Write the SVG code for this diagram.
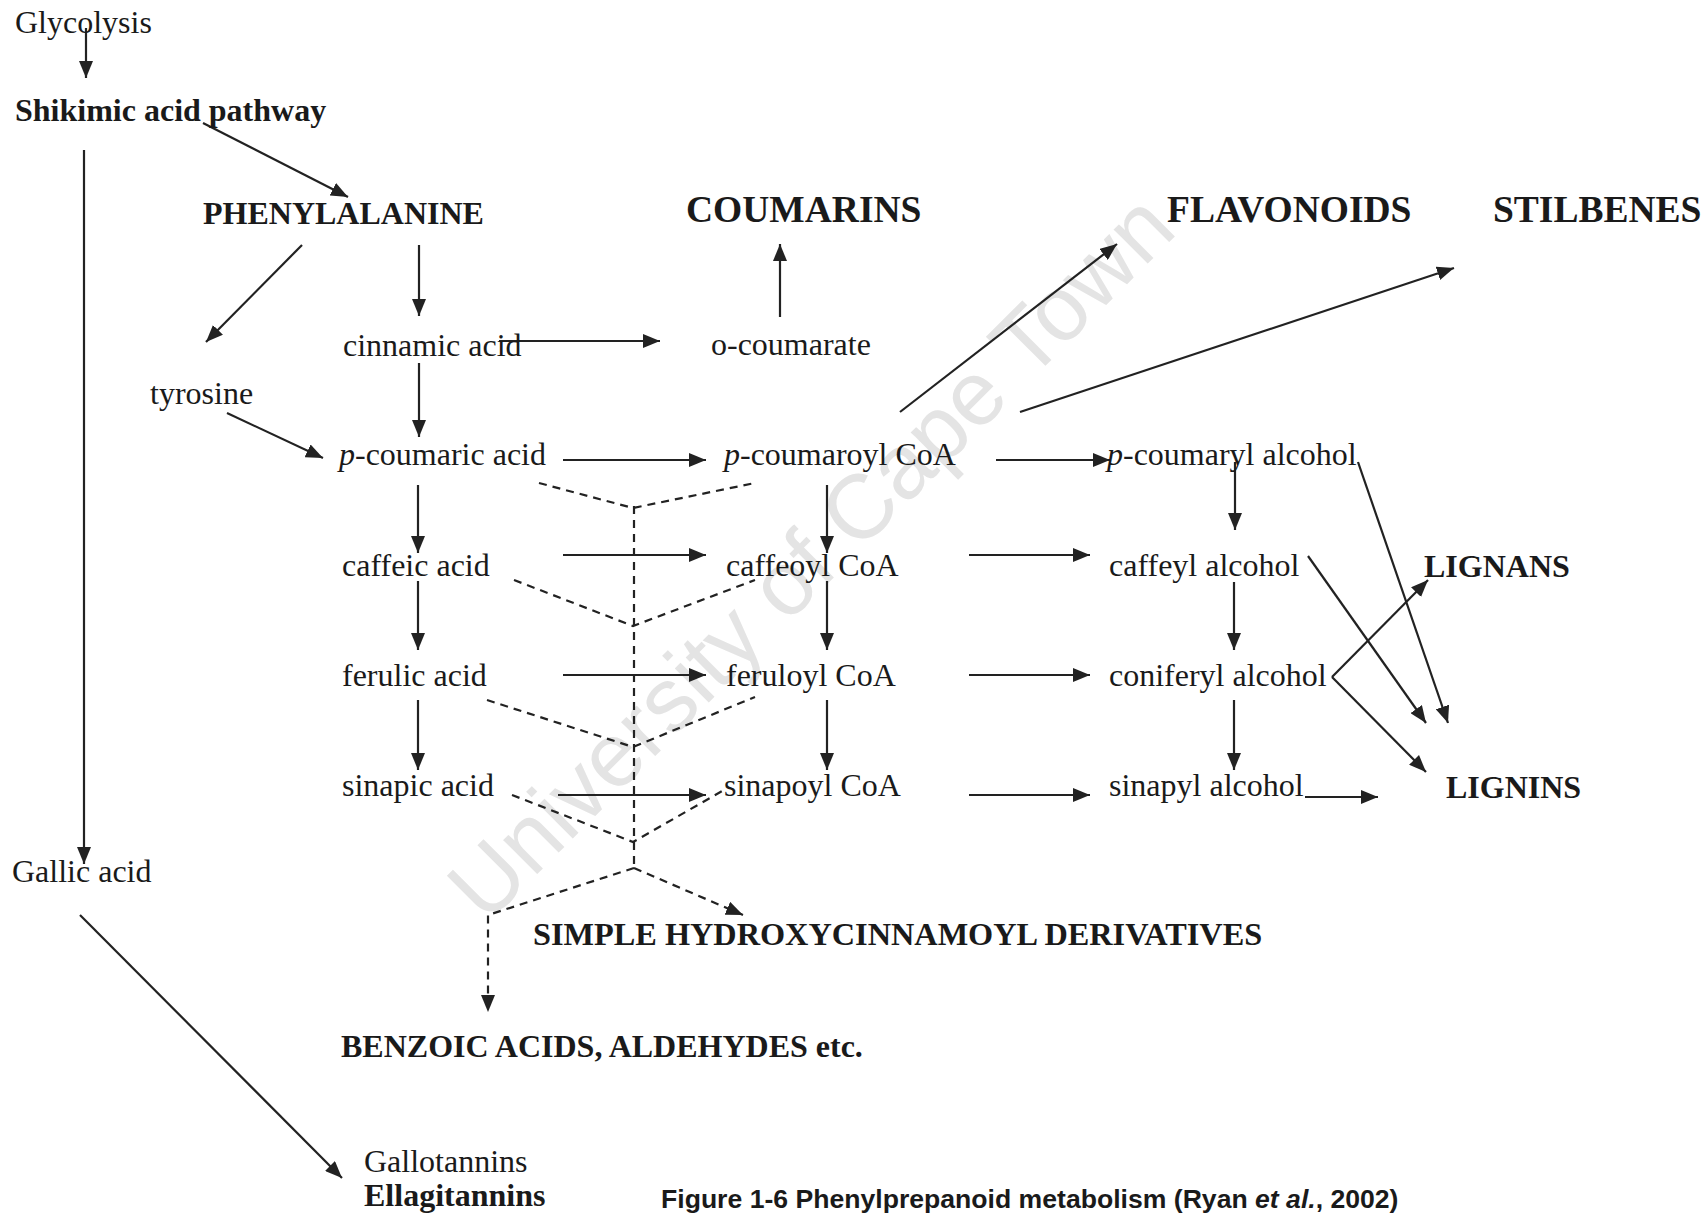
<svg xmlns="http://www.w3.org/2000/svg" width="1708" height="1216" viewBox="0 0 1708 1216">
<style>
.t{font-family:"Liberation Serif","Times New Roman",serif;font-size:32px;fill:#1a1a1a}
.b{font-weight:bold}
.big{font-size:37.5px}
.cap{font-family:"Liberation Sans",Arial,sans-serif;font-weight:bold;font-size:26.6px;fill:#1a1a1a}
.wm{font-family:"Liberation Sans",Arial,sans-serif;font-size:91px;fill:#e4e4e4}
.l{stroke:#222;stroke-width:2.2;fill:none}
.a{marker-end:url(#ah)}
.d{stroke-dasharray:8,6}
</style>
<defs>
<marker id="ah" markerUnits="userSpaceOnUse" markerWidth="18" markerHeight="14" refX="17" refY="7" orient="auto">
<path d="M0,0 L17,7 L0,14 z" fill="#222"/>
</marker>
</defs>
<rect width="1708" height="1216" fill="#fff"/>
<g id="watermark" transform="translate(810,556) rotate(-45)">
<text class="wm" x="0" y="32" text-anchor="middle">University of Cape Town</text>
</g>
<g id="connectors">
<path class="l a" d="M86,28 L86,78"/>
<path class="l a" d="M203,123 L348,197"/>
<path class="l a" d="M84,150 L84,864"/>
<path class="l a" d="M302,245 L206,342"/>
<path class="l a" d="M419,245 L419,316"/>
<path class="l a" d="M499,341 L660,341"/>
<path class="l a" d="M780,317 L780,244"/>
<path class="l a" d="M419,363 L419,437"/>
<path class="l a" d="M227,413 L323,458"/>
<path class="l a" d="M563,460 L706,460"/>
<path class="l a" d="M900,412 L1117,244"/>
<path class="l a" d="M1020,412 L1454,268"/>
<path class="l a" d="M996,460 L1110,460"/>
<path class="l a" d="M418,485 L418,553"/>
<path class="l a" d="M827,485 L827,553"/>
<path class="l a" d="M1235,462 L1235,530"/>
<path class="l a" d="M1358,462 L1448,723"/>
<path class="l a" d="M563,555 L706,555"/>
<path class="l a" d="M969,555 L1090,555"/>
<path class="l a" d="M1308,556 L1426,723"/>
<path class="l a" d="M418,581 L418,650"/>
<path class="l a" d="M827,581 L827,650"/>
<path class="l a" d="M1234,582 L1234,650"/>
<path class="l a" d="M563,675 L706,675"/>
<path class="l a" d="M969,675 L1090,675"/>
<path class="l a" d="M1332,677 L1428,580"/>
<path class="l a" d="M1332,677 L1426,772"/>
<path class="l a" d="M418,700 L418,770"/>
<path class="l a" d="M827,700 L827,770"/>
<path class="l a" d="M1234,700 L1234,770"/>
<path class="l a" d="M558,795 L706,795"/>
<path class="l a" d="M969,795 L1090,795"/>
<path class="l a" d="M1305,797 L1378,797"/>
<path class="l a" d="M80,915 L342,1178"/>
<path class="l d" d="M539,483 L633,508 L755,483"/>
<path class="l d" d="M514,580 L633,626 L755,580"/>
<path class="l d" d="M487,700 L633,747 L755,697"/>
<path class="l d" d="M512,795 L633,842 L724,790"/>
<path class="l d" d="M634,506 L634,868"/>
<path class="l d a" d="M634,868 L488,915 L488,1012"/>
<path class="l d a" d="M634,868 L743,915"/>
</g>
<g id="glycolysis"><text class="t" x="15" y="33">Glycolysis</text></g>
<g id="shikimic"><text class="t b" x="15" y="121">Shikimic acid pathway</text></g>
<g id="phenylalanine"><text class="t b" x="203" y="224">PHENYLALANINE</text></g>
<g id="coumarins"><text class="t b big" x="686" y="222">COUMARINS</text></g>
<g id="flavonoids"><text class="t b big" x="1167" y="222">FLAVONOIDS</text></g>
<g id="stilbenes"><text class="t b big" x="1493" y="222">STILBENES</text></g>
<g id="cinnamic"><text class="t" x="343" y="356">cinnamic acid</text></g>
<g id="ocoumarate"><text class="t" x="711" y="355">o-coumarate</text></g>
<g id="tyrosine"><text class="t" x="150" y="404">tyrosine</text></g>
<g id="pcoumaric"><text class="t" x="339" y="465"><tspan font-style="italic">p</tspan>-coumaric acid</text></g>
<g id="pcoumaroyl"><text class="t" x="724" y="465"><tspan font-style="italic">p</tspan>-coumaroyl CoA</text></g>
<g id="pcoumaryl"><text class="t" x="1107" y="465"><tspan font-style="italic">p</tspan>-coumaryl alcohol</text></g>
<g id="caffeic"><text class="t" x="342" y="576">caffeic acid</text></g>
<g id="caffeoyl"><text class="t" x="726" y="576">caffeoyl CoA</text></g>
<g id="caffeyl"><text class="t" x="1109" y="576">caffeyl alcohol</text></g>
<g id="lignans"><text class="t b" x="1424" y="577">LIGNANS</text></g>
<g id="ferulic"><text class="t" x="342" y="686">ferulic acid</text></g>
<g id="feruloyl"><text class="t" x="726" y="686">feruloyl CoA</text></g>
<g id="coniferyl"><text class="t" x="1109" y="686">coniferyl alcohol</text></g>
<g id="sinapic"><text class="t" x="342" y="796">sinapic acid</text></g>
<g id="sinapoyl"><text class="t" x="724" y="796">sinapoyl CoA</text></g>
<g id="sinapyl"><text class="t" x="1109" y="796">sinapyl alcohol</text></g>
<g id="lignins"><text class="t b" x="1446" y="798">LIGNINS</text></g>
<g id="gallic"><text class="t" x="12" y="882">Gallic acid</text></g>
<g id="simple"><text class="t b" x="533" y="945" style="font-size:32.3px">SIMPLE HYDROXYCINNAMOYL DERIVATIVES</text></g>
<g id="benzoic"><text class="t b" x="341" y="1057">BENZOIC ACIDS, ALDEHYDES etc.</text></g>
<g id="gallotannins"><text class="t" x="364" y="1172">Gallotannins</text></g>
<g id="ellagitannins"><text class="t b" x="364" y="1206">Ellagitannins</text></g>
<g id="caption"><text class="cap" x="661" y="1208">Figure 1-6 Phenylprepanoid metabolism (Ryan <tspan font-style="italic">et al.</tspan>, 2002)</text></g>
</svg>
